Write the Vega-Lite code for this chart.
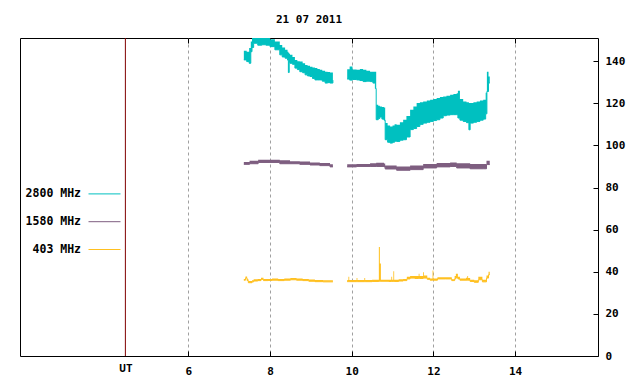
{
  "$schema": "https://vega.github.io/schema/vega-lite/v6.json",
  "width": 578,
  "height": 318,
  "autosize": {"type": "none"},
  "padding": {"left": 20, "top": 38, "right": 42, "bottom": 28},
  "background": "white",
  "title": {
    "text": "21 07 2011",
    "font": "DejaVu Sans Mono",
    "fontSize": 11,
    "fontWeight": "bold",
    "color": "black",
    "anchor": "middle",
    "offset": 13
  },
  "config": {
    "view": {"stroke": "black", "strokeWidth": 1},
    "font": "DejaVu Sans Mono",
    "axis": {
      "labelFont": "DejaVu Sans Mono",
      "labelFontSize": 11,
      "labelFontWeight": "bold",
      "labelColor": "black",
      "tickColor": "black",
      "domain": false,
      "title": null
    }
  },
  "datasets": {
    "radio": [
      {"s": "2800 MHz", "seg": "a", "t": 7.36, "lo": 140.6, "hi": 144.9},
      {"s": "2800 MHz", "seg": "a", "t": 7.43, "lo": 139.8, "hi": 144.5},
      {"s": "2800 MHz", "seg": "a", "t": 7.49, "lo": 139.0, "hi": 146.2},
      {"s": "2800 MHz", "seg": "a", "t": 7.53, "lo": 144.5, "hi": 149.3},
      {"s": "2800 MHz", "seg": "a", "t": 7.56, "lo": 146.5, "hi": 152},
      {"s": "2800 MHz", "seg": "a", "t": 7.60, "lo": 148.5, "hi": 153},
      {"s": "2800 MHz", "seg": "a", "t": 7.70, "lo": 147.6, "hi": 153},
      {"s": "2800 MHz", "seg": "a", "t": 7.80, "lo": 147.8, "hi": 153},
      {"s": "2800 MHz", "seg": "a", "t": 7.90, "lo": 147.6, "hi": 153},
      {"s": "2800 MHz", "seg": "a", "t": 8.00, "lo": 146.9, "hi": 150.4},
      {"s": "2800 MHz", "seg": "a", "t": 8.12, "lo": 145.4, "hi": 149.3},
      {"s": "2800 MHz", "seg": "a", "t": 8.24, "lo": 143.0, "hi": 147.7},
      {"s": "2800 MHz", "seg": "a", "t": 8.30, "lo": 142.0, "hi": 146.5},
      {"s": "2800 MHz", "seg": "a", "t": 8.37, "lo": 141.4, "hi": 145.4},
      {"s": "2800 MHz", "seg": "a", "t": 8.43, "lo": 140.5, "hi": 144.5},
      {"s": "2800 MHz", "seg": "a", "t": 8.45, "lo": 134.6, "hi": 144.0},
      {"s": "2800 MHz", "seg": "a", "t": 8.47, "lo": 139.5, "hi": 143.5},
      {"s": "2800 MHz", "seg": "a", "t": 8.49, "lo": 139.0, "hi": 143.0},
      {"s": "2800 MHz", "seg": "a", "t": 8.55, "lo": 138.5, "hi": 142.0},
      {"s": "2800 MHz", "seg": "a", "t": 8.61, "lo": 136.7, "hi": 140.6},
      {"s": "2800 MHz", "seg": "a", "t": 8.67, "lo": 136.0, "hi": 140.0},
      {"s": "2800 MHz", "seg": "a", "t": 8.73, "lo": 135.0, "hi": 139.8},
      {"s": "2800 MHz", "seg": "a", "t": 8.80, "lo": 134.5, "hi": 139.0},
      {"s": "2800 MHz", "seg": "a", "t": 8.86, "lo": 133.5, "hi": 138.2},
      {"s": "2800 MHz", "seg": "a", "t": 8.92, "lo": 133.0, "hi": 137.8},
      {"s": "2800 MHz", "seg": "a", "t": 8.98, "lo": 132.7, "hi": 137.4},
      {"s": "2800 MHz", "seg": "a", "t": 9.04, "lo": 131.8, "hi": 137.0},
      {"s": "2800 MHz", "seg": "a", "t": 9.10, "lo": 131.1, "hi": 136.7},
      {"s": "2800 MHz", "seg": "a", "t": 9.16, "lo": 131.1, "hi": 136.3},
      {"s": "2800 MHz", "seg": "a", "t": 9.22, "lo": 131.1, "hi": 135.9},
      {"s": "2800 MHz", "seg": "a", "t": 9.28, "lo": 130.5, "hi": 135.5},
      {"s": "2800 MHz", "seg": "a", "t": 9.35, "lo": 129.6, "hi": 135.0},
      {"s": "2800 MHz", "seg": "a", "t": 9.41, "lo": 129.8, "hi": 134.8},
      {"s": "2800 MHz", "seg": "a", "t": 9.47, "lo": 129.6, "hi": 134.6},
      {"s": "2800 MHz", "seg": "a", "t": 9.54, "lo": 131.0, "hi": 134.0},
      {"s": "2800 MHz", "seg": "b", "t": 9.89, "lo": 131.5, "hi": 136.2},
      {"s": "2800 MHz", "seg": "b", "t": 9.95, "lo": 131.0, "hi": 137.5},
      {"s": "2800 MHz", "seg": "b", "t": 10.02, "lo": 131.3, "hi": 136.0},
      {"s": "2800 MHz", "seg": "b", "t": 10.12, "lo": 131.1, "hi": 135.9},
      {"s": "2800 MHz", "seg": "b", "t": 10.20, "lo": 130.8, "hi": 136.3},
      {"s": "2800 MHz", "seg": "b", "t": 10.28, "lo": 130.3, "hi": 135.9},
      {"s": "2800 MHz", "seg": "b", "t": 10.36, "lo": 130.5, "hi": 135.5},
      {"s": "2800 MHz", "seg": "b", "t": 10.45, "lo": 130.3, "hi": 135.0},
      {"s": "2800 MHz", "seg": "b", "t": 10.52, "lo": 129.6, "hi": 135.0},
      {"s": "2800 MHz", "seg": "b", "t": 10.58, "lo": 127.0, "hi": 135.0},
      {"s": "2800 MHz", "seg": "b", "t": 10.60, "lo": 112.2, "hi": 119.3},
      {"s": "2800 MHz", "seg": "b", "t": 10.65, "lo": 112.8, "hi": 118.8},
      {"s": "2800 MHz", "seg": "b", "t": 10.69, "lo": 113.5, "hi": 118.5},
      {"s": "2800 MHz", "seg": "b", "t": 10.74, "lo": 112.5, "hi": 118.2},
      {"s": "2800 MHz", "seg": "b", "t": 10.79, "lo": 112.0, "hi": 118.0},
      {"s": "2800 MHz", "seg": "b", "t": 10.82, "lo": 102.7, "hi": 110.6},
      {"s": "2800 MHz", "seg": "b", "t": 10.88, "lo": 101.5, "hi": 109.5},
      {"s": "2800 MHz", "seg": "b", "t": 10.94, "lo": 101.1, "hi": 109.0},
      {"s": "2800 MHz", "seg": "b", "t": 11.00, "lo": 101.5, "hi": 109.5},
      {"s": "2800 MHz", "seg": "b", "t": 11.05, "lo": 102.0, "hi": 110.0},
      {"s": "2800 MHz", "seg": "b", "t": 11.10, "lo": 101.9, "hi": 109.8},
      {"s": "2800 MHz", "seg": "b", "t": 11.18, "lo": 102.5, "hi": 111.0},
      {"s": "2800 MHz", "seg": "b", "t": 11.26, "lo": 102.7, "hi": 112.2},
      {"s": "2800 MHz", "seg": "b", "t": 11.34, "lo": 104.0, "hi": 114.0},
      {"s": "2800 MHz", "seg": "b", "t": 11.43, "lo": 107.5, "hi": 116.9},
      {"s": "2800 MHz", "seg": "b", "t": 11.51, "lo": 108.0, "hi": 118.5},
      {"s": "2800 MHz", "seg": "b", "t": 11.59, "lo": 109.0, "hi": 120.1},
      {"s": "2800 MHz", "seg": "b", "t": 11.67, "lo": 110.0, "hi": 120.5},
      {"s": "2800 MHz", "seg": "b", "t": 11.75, "lo": 110.6, "hi": 120.9},
      {"s": "2800 MHz", "seg": "b", "t": 11.84, "lo": 111.0, "hi": 121.3},
      {"s": "2800 MHz", "seg": "b", "t": 11.92, "lo": 111.4, "hi": 121.7},
      {"s": "2800 MHz", "seg": "b", "t": 12.00, "lo": 111.8, "hi": 122.0},
      {"s": "2800 MHz", "seg": "b", "t": 12.08, "lo": 112.2, "hi": 122.5},
      {"s": "2800 MHz", "seg": "b", "t": 12.16, "lo": 113.0, "hi": 123.0},
      {"s": "2800 MHz", "seg": "b", "t": 12.24, "lo": 114.1, "hi": 123.2},
      {"s": "2800 MHz", "seg": "b", "t": 12.32, "lo": 114.4, "hi": 123.6},
      {"s": "2800 MHz", "seg": "b", "t": 12.41, "lo": 114.6, "hi": 124.0},
      {"s": "2800 MHz", "seg": "b", "t": 12.49, "lo": 114.6, "hi": 124.4},
      {"s": "2800 MHz", "seg": "b", "t": 12.57, "lo": 114.6, "hi": 124.8},
      {"s": "2800 MHz", "seg": "b", "t": 12.60, "lo": 113.0, "hi": 126.0},
      {"s": "2800 MHz", "seg": "b", "t": 12.65, "lo": 112.0, "hi": 122.0},
      {"s": "2800 MHz", "seg": "b", "t": 12.73, "lo": 111.4, "hi": 120.9},
      {"s": "2800 MHz", "seg": "b", "t": 12.81, "lo": 110.8, "hi": 120.5},
      {"s": "2800 MHz", "seg": "b", "t": 12.87, "lo": 107.4, "hi": 120.1},
      {"s": "2800 MHz", "seg": "b", "t": 12.90, "lo": 110.6, "hi": 120.1},
      {"s": "2800 MHz", "seg": "b", "t": 12.98, "lo": 111.0, "hi": 120.5},
      {"s": "2800 MHz", "seg": "b", "t": 13.06, "lo": 111.4, "hi": 120.9},
      {"s": "2800 MHz", "seg": "b", "t": 13.14, "lo": 112.0, "hi": 121.3},
      {"s": "2800 MHz", "seg": "b", "t": 13.22, "lo": 112.5, "hi": 121.7},
      {"s": "2800 MHz", "seg": "b", "t": 13.28, "lo": 115.0, "hi": 125.0},
      {"s": "2800 MHz", "seg": "b", "t": 13.31, "lo": 125.6, "hi": 135.0},
      {"s": "2800 MHz", "seg": "b", "t": 13.35, "lo": 129.6, "hi": 132.7},
      {"s": "2800 MHz", "seg": "b", "t": 13.38, "lo": 129.6, "hi": 132.7},
      {"s": "1580 MHz", "seg": "a", "t": 7.36, "lo": 91.0, "hi": 92.1},
      {"s": "1580 MHz", "seg": "a", "t": 7.50, "lo": 91.3, "hi": 92.7},
      {"s": "1580 MHz", "seg": "a", "t": 7.71, "lo": 91.9, "hi": 93.2},
      {"s": "1580 MHz", "seg": "a", "t": 8.00, "lo": 91.9, "hi": 93.2},
      {"s": "1580 MHz", "seg": "a", "t": 8.24, "lo": 91.3, "hi": 92.9},
      {"s": "1580 MHz", "seg": "a", "t": 8.49, "lo": 91.3, "hi": 92.5},
      {"s": "1580 MHz", "seg": "a", "t": 8.73, "lo": 91.0, "hi": 92.4},
      {"s": "1580 MHz", "seg": "a", "t": 8.98, "lo": 90.7, "hi": 91.9},
      {"s": "1580 MHz", "seg": "a", "t": 9.22, "lo": 90.4, "hi": 91.6},
      {"s": "1580 MHz", "seg": "a", "t": 9.47, "lo": 89.8, "hi": 91.0},
      {"s": "1580 MHz", "seg": "a", "t": 9.54, "lo": 89.8, "hi": 91.0},
      {"s": "1580 MHz", "seg": "b", "t": 9.89, "lo": 89.8, "hi": 91.0},
      {"s": "1580 MHz", "seg": "b", "t": 10.12, "lo": 90.0, "hi": 91.2},
      {"s": "1580 MHz", "seg": "b", "t": 10.45, "lo": 90.0, "hi": 91.5},
      {"s": "1580 MHz", "seg": "b", "t": 10.60, "lo": 90.0, "hi": 91.8},
      {"s": "1580 MHz", "seg": "b", "t": 10.79, "lo": 89.8, "hi": 91.4},
      {"s": "1580 MHz", "seg": "b", "t": 10.82, "lo": 88.8, "hi": 90.4},
      {"s": "1580 MHz", "seg": "b", "t": 11.10, "lo": 88.2, "hi": 90.0},
      {"s": "1580 MHz", "seg": "b", "t": 11.43, "lo": 88.5, "hi": 90.5},
      {"s": "1580 MHz", "seg": "b", "t": 11.75, "lo": 89.3, "hi": 91.2},
      {"s": "1580 MHz", "seg": "b", "t": 12.08, "lo": 89.8, "hi": 91.6},
      {"s": "1580 MHz", "seg": "b", "t": 12.41, "lo": 90.0, "hi": 91.9},
      {"s": "1580 MHz", "seg": "b", "t": 12.57, "lo": 89.3, "hi": 91.5},
      {"s": "1580 MHz", "seg": "b", "t": 12.90, "lo": 88.9, "hi": 91.2},
      {"s": "1580 MHz", "seg": "b", "t": 13.22, "lo": 88.9, "hi": 91.2},
      {"s": "1580 MHz", "seg": "b", "t": 13.30, "lo": 90.9, "hi": 92.7},
      {"s": "1580 MHz", "seg": "b", "t": 13.38, "lo": 90.9, "hi": 92.5},
      {"s": "403 MHz", "seg": "a", "t": 7.36, "lo": 36.0, "hi": 36.6},
      {"s": "403 MHz", "seg": "a", "t": 7.40, "lo": 37.0, "hi": 37.8},
      {"s": "403 MHz", "seg": "a", "t": 7.44, "lo": 35.8, "hi": 36.6},
      {"s": "403 MHz", "seg": "a", "t": 7.47, "lo": 34.8, "hi": 35.6},
      {"s": "403 MHz", "seg": "a", "t": 7.56, "lo": 35.2, "hi": 36.0},
      {"s": "403 MHz", "seg": "a", "t": 7.60, "lo": 35.6, "hi": 36.4},
      {"s": "403 MHz", "seg": "a", "t": 7.70, "lo": 35.8, "hi": 36.6},
      {"s": "403 MHz", "seg": "a", "t": 7.78, "lo": 36.4, "hi": 37.2},
      {"s": "403 MHz", "seg": "a", "t": 7.84, "lo": 35.8, "hi": 36.6},
      {"s": "403 MHz", "seg": "a", "t": 7.95, "lo": 35.9, "hi": 36.6},
      {"s": "403 MHz", "seg": "a", "t": 8.05, "lo": 36.0, "hi": 36.8},
      {"s": "403 MHz", "seg": "a", "t": 8.20, "lo": 35.8, "hi": 36.6},
      {"s": "403 MHz", "seg": "a", "t": 8.35, "lo": 36.0, "hi": 36.8},
      {"s": "403 MHz", "seg": "a", "t": 8.50, "lo": 36.2, "hi": 37.0},
      {"s": "403 MHz", "seg": "a", "t": 8.65, "lo": 36.0, "hi": 36.8},
      {"s": "403 MHz", "seg": "a", "t": 8.80, "lo": 35.8, "hi": 36.6},
      {"s": "403 MHz", "seg": "a", "t": 8.95, "lo": 35.5, "hi": 36.3},
      {"s": "403 MHz", "seg": "a", "t": 9.10, "lo": 35.3, "hi": 36.1},
      {"s": "403 MHz", "seg": "a", "t": 9.30, "lo": 35.2, "hi": 36.0},
      {"s": "403 MHz", "seg": "a", "t": 9.54, "lo": 35.2, "hi": 36.0},
      {"s": "403 MHz", "seg": "b", "t": 9.89, "lo": 35.3, "hi": 36.1},
      {"s": "403 MHz", "seg": "b", "t": 9.92, "lo": 35.3, "hi": 37.6},
      {"s": "403 MHz", "seg": "b", "t": 9.94, "lo": 35.3, "hi": 36.1},
      {"s": "403 MHz", "seg": "b", "t": 10.12, "lo": 35.3, "hi": 37.0},
      {"s": "403 MHz", "seg": "b", "t": 10.14, "lo": 35.3, "hi": 36.1},
      {"s": "403 MHz", "seg": "b", "t": 10.31, "lo": 35.3, "hi": 37.0},
      {"s": "403 MHz", "seg": "b", "t": 10.33, "lo": 35.3, "hi": 36.1},
      {"s": "403 MHz", "seg": "b", "t": 10.50, "lo": 35.4, "hi": 36.2},
      {"s": "403 MHz", "seg": "b", "t": 10.665, "lo": 35.5, "hi": 51.8},
      {"s": "403 MHz", "seg": "b", "t": 10.69, "lo": 35.5, "hi": 43.9},
      {"s": "403 MHz", "seg": "b", "t": 10.715, "lo": 35.5, "hi": 36.2},
      {"s": "403 MHz", "seg": "b", "t": 10.90, "lo": 35.4, "hi": 36.2},
      {"s": "403 MHz", "seg": "b", "t": 10.97, "lo": 35.4, "hi": 37.6},
      {"s": "403 MHz", "seg": "b", "t": 10.99, "lo": 35.4, "hi": 36.2},
      {"s": "403 MHz", "seg": "b", "t": 11.02, "lo": 35.4, "hi": 40.3},
      {"s": "403 MHz", "seg": "b", "t": 11.04, "lo": 35.4, "hi": 36.2},
      {"s": "403 MHz", "seg": "b", "t": 11.15, "lo": 35.6, "hi": 36.4},
      {"s": "403 MHz", "seg": "b", "t": 11.26, "lo": 35.8, "hi": 36.6},
      {"s": "403 MHz", "seg": "b", "t": 11.35, "lo": 36.6, "hi": 37.6},
      {"s": "403 MHz", "seg": "b", "t": 11.43, "lo": 37.0, "hi": 38.0},
      {"s": "403 MHz", "seg": "b", "t": 11.55, "lo": 36.8, "hi": 38.0},
      {"s": "403 MHz", "seg": "b", "t": 11.64, "lo": 36.8, "hi": 39.0},
      {"s": "403 MHz", "seg": "b", "t": 11.66, "lo": 36.8, "hi": 38.0},
      {"s": "403 MHz", "seg": "b", "t": 11.75, "lo": 37.0, "hi": 39.8},
      {"s": "403 MHz", "seg": "b", "t": 11.77, "lo": 37.0, "hi": 38.2},
      {"s": "403 MHz", "seg": "b", "t": 11.85, "lo": 36.4, "hi": 37.2},
      {"s": "403 MHz", "seg": "b", "t": 11.92, "lo": 36.0, "hi": 36.8},
      {"s": "403 MHz", "seg": "b", "t": 11.98, "lo": 36.0, "hi": 40.6},
      {"s": "403 MHz", "seg": "b", "t": 12.00, "lo": 36.0, "hi": 36.8},
      {"s": "403 MHz", "seg": "b", "t": 12.10, "lo": 36.6, "hi": 37.4},
      {"s": "403 MHz", "seg": "b", "t": 12.30, "lo": 36.6, "hi": 37.4},
      {"s": "403 MHz", "seg": "b", "t": 12.45, "lo": 35.8, "hi": 36.4},
      {"s": "403 MHz", "seg": "b", "t": 12.52, "lo": 36.6, "hi": 38.0},
      {"s": "403 MHz", "seg": "b", "t": 12.55, "lo": 37.2, "hi": 39.0},
      {"s": "403 MHz", "seg": "b", "t": 12.60, "lo": 36.6, "hi": 37.6},
      {"s": "403 MHz", "seg": "b", "t": 12.65, "lo": 36.0, "hi": 36.8},
      {"s": "403 MHz", "seg": "b", "t": 12.80, "lo": 36.0, "hi": 37.2},
      {"s": "403 MHz", "seg": "b", "t": 12.83, "lo": 36.0, "hi": 38.0},
      {"s": "403 MHz", "seg": "b", "t": 12.85, "lo": 36.0, "hi": 37.0},
      {"s": "403 MHz", "seg": "b", "t": 12.90, "lo": 35.4, "hi": 36.2},
      {"s": "403 MHz", "seg": "b", "t": 13.00, "lo": 35.0, "hi": 36.0},
      {"s": "403 MHz", "seg": "b", "t": 13.10, "lo": 36.2, "hi": 37.6},
      {"s": "403 MHz", "seg": "b", "t": 13.20, "lo": 35.2, "hi": 36.2},
      {"s": "403 MHz", "seg": "b", "t": 13.30, "lo": 37.0, "hi": 38.2},
      {"s": "403 MHz", "seg": "b", "t": 13.35, "lo": 38.6, "hi": 40.0},
      {"s": "403 MHz", "seg": "b", "t": 13.38, "lo": 38.6, "hi": 40.0}
    ],
    "ut": [{"t": 4.46}]
  },
  "layer": [
    {
      "data": {"name": "radio"},
      "mark": {"type": "line", "interpolate": "step-after", "clip": true, "strokeWidth": 1},
      "encoding": {
        "x": {
          "field": "t", "type": "quantitative",
          "scale": {"domain": [1.88, 16.03], "nice": false, "zero": false},
          "axis": {
            "orient": "bottom",
            "values": [4.46, 6, 8, 10, 12, 14],
            "labelExpr": "datum.value < 5 ? 'UT' : datum.label",
            "grid": true,
            "gridColor": "#a0a0a0",
            "gridDash": [3, 3],
            "gridWidth": 1,
            "gridOpacity": {"condition": {"test": "datum.value < 5", "value": 0}, "value": 1},
            "tickSize": -5,
            "tickOpacity": {"condition": {"test": "datum.value < 5", "value": 0}, "value": 1},
            "labelPadding": {"condition": {"test": "datum.value < 5", "value": 11}, "value": 14}
          }
        },
        "y": {
          "field": "lo", "type": "quantitative",
          "scale": {"domain": [0, 151], "nice": false},
          "axis": {
            "orient": "right",
            "values": [0, 20, 40, 60, 80, 100, 120, 140],
            "tickSize": -5,
            "labelPadding": 12,
            "grid": false
          }
        },
        "color": {
          "field": "s", "type": "nominal",
          "scale": {"domain": ["2800 MHz", "1580 MHz", "403 MHz"], "range": ["#00c0c0", "#7e5e80", "#ffc020"]},
          "legend": {
            "orient": "none",
            "legendX": 68,
            "legendY": 139.4,
            "title": null,
            "padding": 0,
            "symbolType": "stroke",
            "symbolSize": 1024,
            "symbolStrokeWidth": 1,
            "rowPadding": 5.8,
            "labelAlign": "right",
            "labelOffset": -40,
            "labelFont": "DejaVu Sans Mono",
            "labelFontSize": 11.5,
            "labelFontWeight": "bold",
            "labelColor": "black"
          }
        },
        "detail": {"field": "seg"}
      }
    },
    {
      "data": {"name": "radio"},
      "mark": {"type": "area", "interpolate": "step-after", "clip": true},
      "encoding": {
        "x": {"field": "t", "type": "quantitative", "axis": null},
        "y": {"field": "lo", "type": "quantitative"},
        "y2": {"field": "hi"},
        "color": {"field": "s", "type": "nominal"},
        "detail": {"field": "seg"}
      }
    },
    {
      "data": {"name": "ut"},
      "mark": {"type": "rule", "color": "#800000", "strokeWidth": 1},
      "encoding": {
        "x": {
          "field": "t", "type": "quantitative",
          "axis": {
            "orient": "top",
            "values": [6, 8, 10, 12, 14],
            "labels": false,
            "tickSize": -5,
            "grid": false
          }
        }
      }
    }
  ],
  "resolve": {"axis": {"x": "independent"}}
}
